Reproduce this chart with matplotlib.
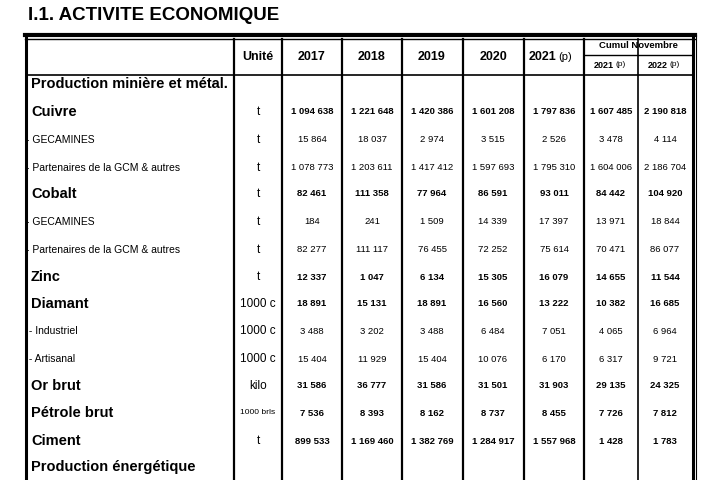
import matplotlib.pyplot as plt
import matplotlib as mpl
from matplotlib import font_manager

fams = [f.name for f in font_manager.fontManager.ttflist]
FONT = "Liberation Sans Narrow" if "Liberation Sans Narrow" in fams else "Liberation Sans"
mpl.rcParams["font.family"] = FONT

TITLE = "I.1. ACTIVITE ECONOMIQUE"
YEARS = ["2017", "2018", "2019", "2020", "2021"]
CUMUL = ["2021", "2022"]

LABELS = ["Production minière et métal.", "Cuivre", "- GECAMINES", "- Partenaires de la GCM & autres",
          "Cobalt", "- GECAMINES", "- Partenaires de la GCM & autres", "Zinc", "Diamant",
          " - Industriel", " - Artisanal", "Or brut", "Pétrole brut", "Ciment", "Production énergétique"]
BOLD = [True, True, False, False, True, False, False, True, True, False, False, True, True, True, True]
UNITS = ["", "t", "t", "t", "t", "t", "t", "t", "1000 c", "1000 c", "1000 c", "kilo", "1000 brls", "t", ""]
VALUES = [
    [],
    ["1 094 638", "1 221 648", "1 420 386", "1 601 208", "1 797 836", "1 607 485", "2 190 818"],
    ["15 864", "18 037", "2 974", "3 515", "2 526", "3 478", "4 114"],
    ["1 078 773", "1 203 611", "1 417 412", "1 597 693", "1 795 310", "1 604 006", "2 186 704"],
    ["82 461", "111 358", "77 964", "86 591", "93 011", "84 442", "104 920"],
    ["184", "241", "1 509", "14 339", "17 397", "13 971", "18 844"],
    ["82 277", "111 117", "76 455", "72 252", "75 614", "70 471", "86 077"],
    ["12 337", "1 047", "6 134", "15 305", "16 079", "14 655", "11 544"],
    ["18 891", "15 131", "18 891", "16 560", "13 222", "10 382", "16 685"],
    ["3 488", "3 202", "3 488", "6 484", "7 051", "4 065", "6 964"],
    ["15 404", "11 929", "15 404", "10 076", "6 170", "6 317", "9 721"],
    ["31 586", "36 777", "31 586", "31 501", "31 903", "29 135", "24 325"],
    ["7 536", "8 393", "8 162", "8 737", "8 455", "7 726", "7 812"],
    ["899 533", "1 169 460", "1 382 769", "1 284 917", "1 557 968", "1 428", "1 783"],
    [],
]

# layout in pixel coordinates
VLINES = [234, 282, 342, 402, 463, 524, 584, 638]
COLC = [258, 312, 372, 432, 493, 554, 611, 665]
ROWY = [84, 112, 140, 168, 194, 222, 250, 277, 304, 331, 359, 386, 413, 441, 467]

fig = plt.figure(figsize=(7.16, 4.8), dpi=100)
ax = fig.add_axes([0, 0, 1, 1])
ax.set_xlim(0, 716)
ax.set_ylim(480, 0)
ax.axis("off")

ax.text(28, 16, TITLE, fontsize=13.5, fontweight="bold", va="center", ha="left")

# borders
ax.plot([25, 695], [35, 35], color="black", lw=3)
ax.plot([25, 695], [39, 39], color="black", lw=1)
ax.plot([26, 26], [35, 480], color="black", lw=2.2)
ax.plot([693, 693], [35, 480], color="black", lw=2.2)
ax.plot([696, 696], [35, 480], color="black", lw=0.8)
for x in VLINES:
    ax.plot([x, x], [39, 480], color="black", lw=1.6 if x != 638 else 1.2)
ax.plot([26, 693], [75, 75], color="black", lw=1.2)
ax.plot([584, 693], [55, 55], color="black", lw=1.0)

# header
ax.text(COLC[0], 57, "Unité", fontsize=9, fontweight="bold", ha="center", va="center")
for i, y in enumerate(YEARS):
    if y == "2021":
        ax.text(COLC[i + 1] + 2, 57, y, fontsize=9, fontweight="bold", ha="right", va="center")
        ax.text(COLC[i + 1] + 4, 57, "(p)", fontsize=8, ha="left", va="center")
    else:
        ax.text(COLC[i + 1], 57, y, fontsize=9, fontweight="bold", ha="center", va="center")
ax.text(638, 46, "Cumul Novembre", fontsize=6.8, fontweight="bold", ha="center", va="center")
for i, y in enumerate(CUMUL):
    ax.text(COLC[6 + i] + 3, 65, y, fontsize=6.5, fontweight="bold", ha="right", va="center")
    ax.text(COLC[6 + i] + 5, 65, "(p)", fontsize=6, ha="left", va="center")

# body
for r, lab in enumerate(LABELS):
    y = ROWY[r]
    if BOLD[r]:
        ax.text(31, y, lab, fontsize=10.5, fontweight="bold", ha="left", va="center")
    else:
        ax.text(26, y, lab, fontsize=7.5, ha="left", va="center")
    u = UNITS[r]
    if u:
        ax.text(COLC[0], y, u, fontsize=6 if u == "1000 brls" else 8.5, ha="center", va="center")
    for c, v in enumerate(VALUES[r]):
        ax.text(COLC[c + 1], y, v, fontsize=6.8, fontweight="bold" if BOLD[r] else "normal",
                ha="center", va="center")

fig.savefig("out.png", dpi=100)
